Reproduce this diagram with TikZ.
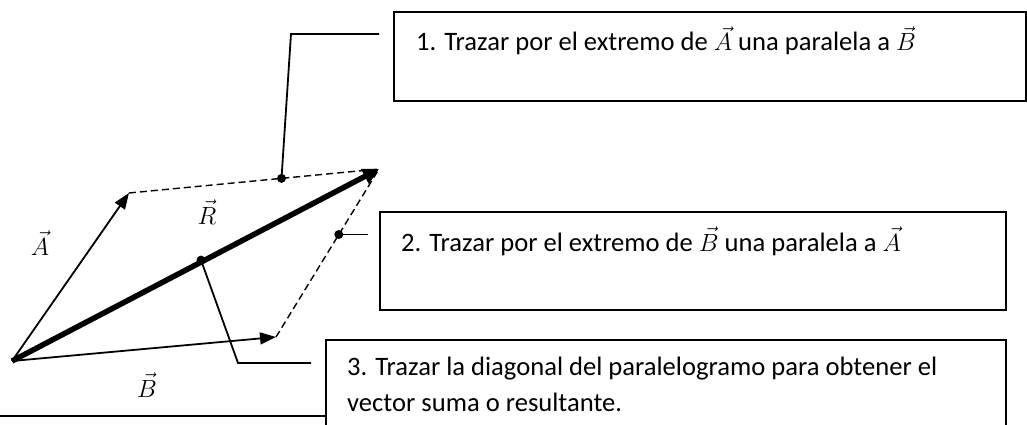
\documentclass[tikz,border=0pt]{standalone}
\usepackage{fontspec}
\setmainfont{Carlito}
\usetikzlibrary{arrows.meta}
\tikzset{
  vecarrow/.style={line width=1.8pt,-{Triangle[length=16pt,width=12pt]}},
  resarrow/.style={line width=5.5pt,-{Triangle[length=16pt,width=16pt]}},
  guide/.style={line width=1.4pt,dash pattern=on 7pt off 4pt},
  notebox/.style={draw,line width=2.4pt,anchor=north west,inner sep=0pt},
  callout/.style={line width=1.8pt},
  pin/.style={circle,fill,inner sep=0pt,minimum size=9pt},
  note/.style={anchor=base west,inner sep=0pt,font=\fontsize{26.6}{36}\selectfont},
  veclabel/.style={font=\fontsize{28}{32}\selectfont}
}
\begin{document}
\begin{tikzpicture}[x=1pt,y=1pt,yscale=-1,xscale=1]
        \clip (0,0) rectangle (1027,425);
        % Points of the parallelogram
        \coordinate (O) at (12,361);
        \coordinate (Atip) at (129,193);
        \coordinate (Btip) at (276,337);
        \coordinate (Rtip) at (379,169);
        %Shape: Rectangle
        \node[notebox,minimum width=632,minimum height=89] (box1) at (393,11) {};
        %Shape: Rectangle
        \node[notebox,minimum width=626,minimum height=98] (box2) at (379,210.5) {};
        %Shape: Rectangle
        \node[notebox,minimum width=680,minimum height=120] (box3) at (325,338.5) {};
        %Straight Lines
        \coordinate (floor) at (0,415.7);
        \draw [callout] (floor) -- (box3.west |- floor);
        %Straight Lines
        \draw [guide] (Atip) -- (Rtip) node [pin,pos=0.61] (dot1) {};
        \draw [guide] (Btip) -- (Rtip) node [pin,pos=0.61] (dot2) {};
        %Straight Lines
        \draw [vecarrow] (O) -- (Atip);
        \draw [vecarrow] (O) -- (Btip);
        \draw [resarrow] (O) -- (Rtip);
        \path (O) -- (Rtip) node [pin,pos=0.515,yshift=2pt] (dot3) {};
        %Straight Lines
        \coordinate (k1) at (291,34);
        \coordinate (c1) at (379,34);
        \draw [callout] (dot1.center) -- (k1) -- (c1);
        \coordinate (c2) at (368,233.5);
        \draw [callout] (dot2.center) -- (dot2.center -| c2);
        \coordinate (k3) at (238,363);
        \coordinate (c3) at (311,363);
        \draw [callout] (dot3.center) -- (k3) -- (c3);
        % Text Node
        \node [veclabel] (labA) at (40,243) {$\vec{A}$};
        % Text Node
        \node [veclabel] (labR) at (207,212) {$\vec{R}$};
        % Text Node
        \node [veclabel] (labB) at (147,385) {$\vec{B}$};
        % Text Node
        \node [note] (txt1) at (416,51) {1. Trazar por el extremo de $\vec{A}$ una paralela a $\vec{B}$};
        % Text Node
        \node [note] (txt2) at (401,251) {2. Trazar por el extremo de $\vec{B}$ una paralela a $\vec{A}$};
        % Text Node
        \node [note] (txt3) at (347,375) {3. Trazar la diagonal del paralelogramo para obtener el};
        \node [note] (txt3b) at (347,411) {vector suma o resultante.};
\end{tikzpicture}
\end{document}
